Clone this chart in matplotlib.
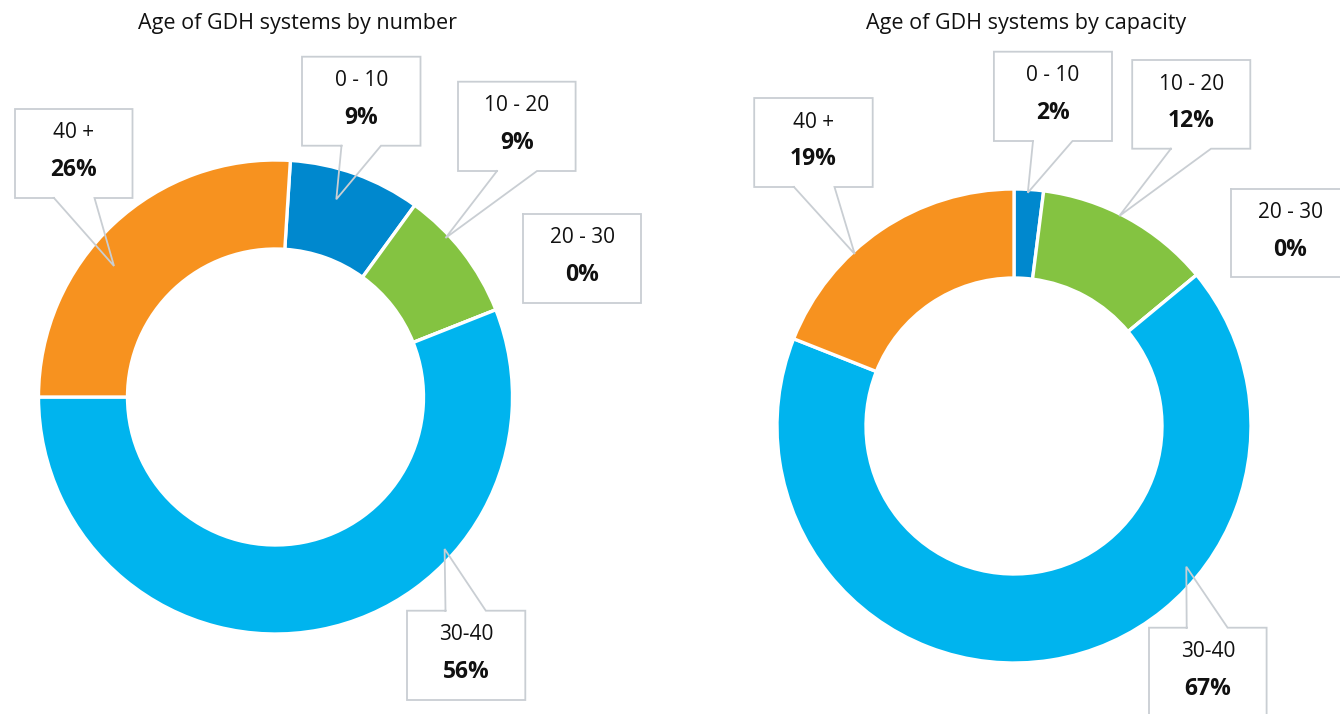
import matplotlib
matplotlib.use("Agg")
import matplotlib.pyplot as plt
from matplotlib.patches import Rectangle
from matplotlib.lines import Line2D

# ---- data ----
categories = ["0 - 10", "10 - 20", "20 - 30", "30-40", "40 +"]
share_by_number = [9, 9, 0, 56, 26]
share_by_capacity = [2, 12, 0, 67, 19]
titles = ["Age of GDH systems by number", "Age of GDH systems by capacity"]
colors = ["#0088CE", "#84C341", "#A0A0A0", "#00B4EE", "#F7921F"]

# ---- layout (pixel coords, y from top) ----
W, H = 1340, 714
FONT = ["Open Sans", "DejaVu Sans"]
EDGE = "#C9CED3"

charts = [
    dict(values=share_by_number, center=(275.5, 397), start=86.4,
         title_xy=(297, 23),
         boxes={
             "40 +":    ((15, 109, 132.5, 198), ("bottom", 54, 94.5, (114, 266))),
             "0 - 10":  ((302, 56.7, 420.5, 145.7), ("bottom", 341.5, 381, (336.3, 199.3))),
             "10 - 20": ((458, 81.7, 575.6, 171), ("bottom", 497, 537, (445.5, 238))),
             "20 - 30": ((523, 213.7, 641, 302.7), None),
             "30-40":   ((407, 610.7, 525.3, 700), ("top", 445.5, 485.8, (444.6, 549))),
         }),
    dict(values=share_by_capacity, center=(1014, 426), start=90,
         title_xy=(1026, 23),
         boxes={
             "40 +":    ((754.2, 98, 872.7, 187), ("bottom", 794, 834.5, (854.7, 254))),
             "0 - 10":  ((993.9, 51.7, 1112, 141), ("bottom", 1033, 1072.5, (1027.8, 192.7))),
             "10 - 20": ((1132.2, 60, 1250.3, 148.7), ("bottom", 1170.9, 1211, (1119.3, 216))),
             "20 - 30": ((1231.4, 188.7, 1349.5, 277.3), None),
             "30-40":   ((1149, 627.7, 1266.6, 716.7), ("top", 1186.7, 1227.6, (1186.3, 566.7))),
         }),
]
R_OUT = 237
RING = 89

fig = plt.figure(figsize=(W / 100, H / 100), dpi=100)
ax = fig.add_axes([0, 0, 1, 1])


def P(x, y):
    return x, H - y


for ch, title in zip(charts, titles):
    cx, cy = P(*ch["center"])
    ax.pie(ch["values"], colors=colors, startangle=ch["start"], counterclock=False,
           center=(cx, cy), radius=R_OUT,
           wedgeprops=dict(width=RING, edgecolor="white", linewidth=2.4),
           frame=True)
    tx, ty = P(*ch["title_xy"])
    ax.text(tx, ty, title, ha="center", va="center", fontsize=15.5,
            family=FONT, color="#111111")

    for cat, val in zip(categories, ch["values"]):
        (x0, y0, x1, y1), tail = ch["boxes"][cat]
        bx, by = P(x0, y1)
        ax.add_patch(Rectangle((bx, by), x1 - x0, y1 - y0, facecolor="white",
                               edgecolor="none", zorder=5))
        # outline with tail
        if tail is None:
            pts = [(x0, y0), (x1, y0), (x1, y1), (x0, y1), (x0, y0)]
        else:
            side, a, b, (tx_, ty_) = tail
            if side == "bottom":
                pts = [(a, y1), (tx_, ty_), (b, y1), (x1, y1), (x1, y0),
                       (x0, y0), (x0, y1), (a, y1)]
            else:
                pts = [(a, y0), (tx_, ty_), (b, y0), (x1, y0), (x1, y1),
                       (x0, y1), (x0, y0), (a, y0)]
        xs = [p[0] for p in pts]
        ys = [H - p[1] for p in pts]
        ax.add_line(Line2D(xs, ys, color=EDGE, linewidth=1.3, zorder=6,
                           solid_joinstyle="miter"))
        mx = (x0 + x1) / 2
        ax.text(*P(mx, y0 + 24), cat, ha="center", va="center", fontsize=15,
                family=FONT, color="#111111", zorder=7)
        ax.text(*P(mx, y0 + 61), f"{val}%", ha="center", va="center", fontsize=16.5,
                family=FONT, fontweight="bold", color="#111111", zorder=7)

ax.set_xlim(0, W)
ax.set_ylim(0, H)
ax.set_aspect("equal")
ax.axis("off")
fig.savefig("out.png", dpi=100)
